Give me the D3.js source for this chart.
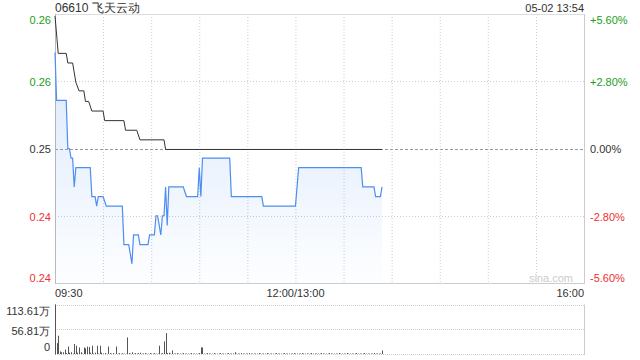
<!DOCTYPE html>
<html>
<head>
<meta charset="utf-8">
<script src="https://cdn.jsdelivr.net/npm/d3@7"></script>
<style>
  html, body { margin: 0; padding: 0; background: #fff; }
  svg { display: block; font-family: "Liberation Sans", Arial, sans-serif; }
</style>
</head>
<body>
<script>
// ---- data ----
const title = "06610 飞天云动";
const stamp = "05-02 13:54";
const prevClose = 0.25;

// last price (minute index from 09:30, price)
const priceMin = [0, 1, 7, 8, 9, 10, 11, 12, 13, 22, 23, 25, 26, 27, 30, 32, 42, 43, 46, 48, 49, 52, 53, 58, 59, 62, 63, 64, 66, 67, 68, 69, 70, 71, 80, 82, 89, 90, 91, 92, 109, 110, 129, 130, 150, 152, 191, 192, 199, 200, 203, 204];
const priceVal = [0.260, 0.255, 0.255, 0.250, 0.250, 0.249, 0.249, 0.246, 0.248, 0.248, 0.245, 0.245, 0.244, 0.245, 0.245, 0.244, 0.244, 0.240, 0.240, 0.238, 0.241, 0.241, 0.240, 0.240, 0.241, 0.241, 0.243, 0.243, 0.241, 0.243, 0.243, 0.246, 0.242, 0.246, 0.246, 0.245, 0.245, 0.248, 0.245, 0.249, 0.249, 0.245, 0.245, 0.244, 0.244, 0.248, 0.248, 0.246, 0.246, 0.245, 0.245, 0.246];

// average price
const avgMin = [0, 2, 7, 8, 11, 13, 15, 18, 19, 21, 23, 30, 31, 43, 44, 51, 53, 68, 69, 204];
const avgVal = [0.2638, 0.2599, 0.2599, 0.2589, 0.2589, 0.2569, 0.2560, 0.2560, 0.2549, 0.2549, 0.2539, 0.2539, 0.2529, 0.2529, 0.2519, 0.2519, 0.2509, 0.2509, 0.2499, 0.2499];

// volume per minute, in 万
const volume = [
  113.61, 25, 42, 6, 4, 4, 10, 2, 17, 3,
  4, 1, 23, 19, 3, 15, 4, 1, 15, 13,
  17, 16, 3, 19, 1, 3, 19, 1, 19, 3,
  1, 2, 0.5, 17, 2, 1, 2, 0.5, 17, 1,
  2, 0.5, 2, 1, 0.5, 38, 2, 1, 4, 1,
  2, 1, 2, 3, 1, 1, 2, 1, 1, 2,
  1, 1, 2, 1, 1, 19, 1, 2, 29, 48,
  2, 3, 1, 8, 1, 1, 2, 1, 1, 1,
  2, 1, 1, 1, 1, 2, 1, 1, 1, 1,
  2, 15, 15, 1, 1, 2, 1, 1, 1, 2,
  1, 1, 1, 2, 1, 1, 1, 1, 2, 1,
  1, 1, 4, 1, 1, 1, 2, 1, 1, 1,
  1, 2, 1, 1, 1, 1, 1, 2, 1, 1,
  1, 1, 2, 1, 1, 1, 1, 1, 2, 1,
  1, 1, 1, 2, 1, 1, 1, 1, 1, 2,
  1, 1, 1, 1, 2, 1, 1, 1, 1, 1,
  2, 1, 1, 1, 1, 1, 2, 1, 1, 1,
  1, 2, 1, 1, 1, 1, 1, 2, 1, 1,
  1, 1, 2, 1, 1, 1, 1, 1, 2, 1,
  1, 1, 1, 2, 1, 1, 1, 1, 1, 2,
  1, 1, 1, 1, 8
];

const priceTicks = [0.264, 0.257, 0.25, 0.243, 0.236];
const priceLabels = ["0.26", "0.26", "0.25", "0.24", "0.24"];
const pctLabels = ["+5.60%", "+2.80%", "0.00%", "-2.80%", "-5.60%"];
const timeTicks = [0, 150, 330];
const timeLabels = ["09:30", "12:00/13:00", "16:00"];
const volTicks = [113.61, 56.81, 0];
const volLabels = ["113.61万", "56.81万", "0"];

// ---- layout ----
const W = 640, H = 360;
const L = 55, R = 584, T = 14, B = 283;
const VT = 304.5, VB = 354;
const GREEN = "#1aa01a", RED = "#f03030", TXT = "#333";

const x = d3.scaleLinear().domain([0, 330]).range([L, R]);
const y = d3.scaleLinear().domain([0.236, 0.264]).range([B, T]);
const yv = d3.scaleLinear().domain([0, 113.61]).range([VB, VT]);

const svg = d3.select("body").append("svg")
  .attr("width", W).attr("height", H);

const defs = svg.append("defs");
const grad = defs.append("linearGradient")
  .attr("id", "fillGrad").attr("x1", 0).attr("y1", 0).attr("x2", 0).attr("y2", 1);
grad.append("stop").attr("offset", "0%").attr("stop-color", "#4d8ef0").attr("stop-opacity", 0.2);
grad.append("stop").attr("offset", "100%").attr("stop-color", "#4d8ef0").attr("stop-opacity", 0.01);

// grid
const grid = svg.append("g");
d3.range(1, 11).forEach(i => {
  grid.append("line")
    .attr("x1", x(i * 30) + 0.5).attr("x2", x(i * 30) + 0.5)
    .attr("y1", T).attr("y2", B)
    .attr("stroke", "#ccc").attr("stroke-dasharray", "1,2");
});
priceTicks.slice(1, 4).forEach(p => {
  const mid = p === prevClose;
  grid.append("line")
    .attr("x1", L).attr("x2", R)
    .attr("y1", Math.round(y(p)) + 0.5).attr("y2", Math.round(y(p)) + 0.5)
    .attr("stroke", mid ? "#999" : "#ccc")
    .attr("stroke-dasharray", mid ? "3,2" : "1,2");
});

// frame
svg.append("line").attr("x1", L).attr("x2", R).attr("y1", T + 0.5).attr("y2", T + 0.5).attr("stroke", "#ddd");
svg.append("line").attr("x1", L).attr("x2", R).attr("y1", B + 0.5).attr("y2", B + 0.5).attr("stroke", "#ccc");
svg.append("line").attr("x1", L + 0.5).attr("x2", L + 0.5).attr("y1", T).attr("y2", B + 1).attr("stroke", "#bbb");
svg.append("line").attr("x1", R + 0.5).attr("x2", R + 0.5).attr("y1", T).attr("y2", B + 1).attr("stroke", "#ccc");

// watermark
svg.append("text").attr("x", 573).attr("y", 282).attr("text-anchor", "end")
  .attr("font-size", 11).attr("fill", "#ccc").text("sina.com");

// price area + lines
const pts = priceMin.map((m, i) => [m, priceVal[i]]);
const avgPts = avgMin.map((m, i) => [m, avgVal[i]]);

svg.append("path").datum(pts)
  .attr("fill", "url(#fillGrad)")
  .attr("d", d3.area().x(d => x(d[0])).y0(B).y1(d => y(d[1])));

svg.append("path").datum(avgPts)
  .attr("fill", "none").attr("stroke", "#333").attr("stroke-width", 1)
  .attr("d", d3.line().x(d => x(d[0])).y(d => y(d[1])));

svg.append("path").datum(pts)
  .attr("fill", "none").attr("stroke", "#4d8ef0").attr("stroke-width", 1.2)
  .attr("d", d3.line().x(d => x(d[0])).y(d => y(d[1])));

// price labels
const colorOf = p => p > prevClose ? GREEN : (p < prevClose ? RED : TXT);
const labelY = (p, i) => {
  const yy = y(p);
  if (i === 0) return yy + 6;
  if (i === priceTicks.length - 1) return yy - 5;
  return yy + 1;
};
svg.append("g").selectAll("text").data(priceTicks).join("text")
  .attr("x", 51).attr("y", (p, i) => labelY(p, i))
  .attr("dy", "0.35em").attr("text-anchor", "end")
  .attr("font-size", 11).attr("fill", colorOf)
  .text((p, i) => priceLabels[i]);
svg.append("g").selectAll("text").data(priceTicks).join("text")
  .attr("x", 590).attr("y", (p, i) => labelY(p, i))
  .attr("dy", "0.35em").attr("text-anchor", "start")
  .attr("font-size", 11).attr("fill", colorOf)
  .text((p, i) => pctLabels[i]);

// header
svg.append("text").attr("x", L).attr("y", 12).attr("font-size", 12).attr("fill", TXT).text(title);
svg.append("text").attr("x", R).attr("y", 12).attr("text-anchor", "end").attr("font-size", 11).attr("fill", TXT).text(stamp);

// time labels
svg.append("g").selectAll("text").data(timeTicks).join("text")
  .attr("x", d => x(d)).attr("y", 297)
  .attr("text-anchor", (d, i) => i === 0 ? "start" : (i === timeTicks.length - 1 ? "end" : "middle"))
  .attr("font-size", 11).attr("fill", TXT)
  .text((d, i) => timeLabels[i]);

// volume panel
volTicks.forEach(v => {
  svg.append("line").attr("x1", L).attr("x2", R)
    .attr("y1", Math.round(yv(v)) + 0.5).attr("y2", Math.round(yv(v)) + 0.5)
    .attr("stroke", "#ccc").attr("stroke-dasharray", "1,1");
});
svg.append("line").attr("x1", L + 0.5).attr("x2", L + 0.5).attr("y1", VT).attr("y2", VB + 1).attr("stroke", "#999");
svg.append("line").attr("x1", R + 0.5).attr("x2", R + 0.5).attr("y1", VT).attr("y2", VB + 1).attr("stroke", "#ccc");

svg.append("g").selectAll("line").data(volume).join("line")
  .attr("x1", (v, i) => Math.round(x(i)) + 0.5).attr("x2", (v, i) => Math.round(x(i)) + 0.5)
  .attr("y1", VB).attr("y2", v => yv(v))
  .attr("stroke", "#555").attr("stroke-width", 1);

svg.append("g").selectAll("text").data(volTicks).join("text")
  .attr("x", 50)
  .attr("y", (v, i) => i === 0 ? yv(v) + 7 : (i === volTicks.length - 1 ? yv(v) - 7 : yv(v) + 1.5))
  .attr("dy", "0.35em").attr("text-anchor", "end")
  .attr("font-size", 11).attr("fill", TXT)
  .text((v, i) => volLabels[i]);
</script>
</body>
</html>
